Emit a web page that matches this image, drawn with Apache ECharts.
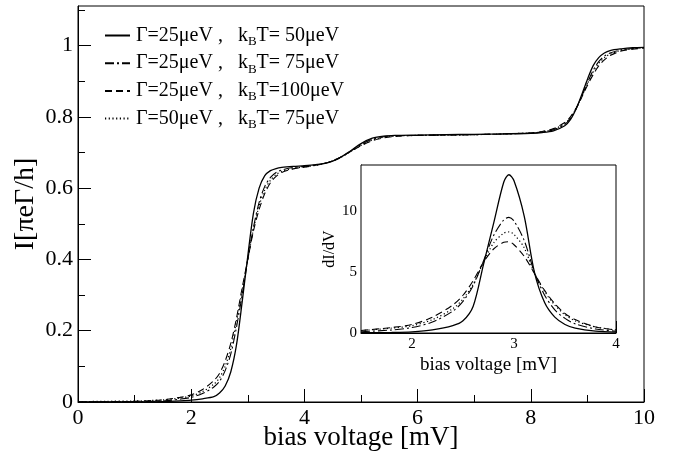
<!DOCTYPE html>
<html><head><meta charset="utf-8">
<script src="https://cdn.jsdelivr.net/npm/echarts@6/dist/echarts.min.js"></script>
<style>html,body{margin:0;padding:0;background:#fff}#c{width:679px;height:458px}</style>
</head><body><div id="c"></div>
<script>
// ---- main plot data ----
const vMain = [0,0.5,1,1.5,1.8,2.0,2.2,2.4,2.5,2.6,2.7,2.8,2.9,3.0,3.1,3.2,3.3,3.4,3.5,3.6,3.8,4.0,4.2,4.4,4.6,4.8,5.0,5.2,5.4,5.6,6.0,6.5,7.0,7.5,8.0,8.2,8.4,8.6,8.7,8.8,8.9,9.0,9.1,9.2,9.3,9.4,9.6,9.8,10];
const iSolid   = [0,0,0,0.001,0.003,0.005,0.009,0.015,0.025,0.045,0.085,0.16,0.28,0.41,0.53,0.60,0.635,0.649,0.655,0.658,0.661,0.663,0.666,0.671,0.683,0.703,0.725,0.740,0.746,0.748,0.749,0.750,0.751,0.752,0.754,0.756,0.761,0.775,0.792,0.822,0.862,0.905,0.943,0.966,0.979,0.986,0.991,0.994,0.995];
const iDashDot = [0,0,0.001,0.003,0.008,0.013,0.024,0.042,0.058,0.088,0.135,0.21,0.30,0.40,0.49,0.56,0.605,0.63,0.644,0.651,0.658,0.661,0.665,0.671,0.683,0.702,0.722,0.737,0.744,0.747,0.748,0.749,0.750,0.752,0.754,0.757,0.764,0.779,0.796,0.823,0.858,0.895,0.93,0.955,0.970,0.979,0.988,0.992,0.994];
const iDash    = [0,0.0005,0.002,0.006,0.013,0.02,0.035,0.06,0.08,0.115,0.165,0.235,0.32,0.40,0.48,0.54,0.585,0.615,0.633,0.644,0.654,0.659,0.664,0.671,0.684,0.701,0.719,0.733,0.741,0.745,0.748,0.749,0.750,0.752,0.755,0.759,0.767,0.784,0.80,0.824,0.855,0.888,0.918,0.943,0.960,0.972,0.985,0.990,0.993];
const iDot     = [0.001,0.002,0.003,0.006,0.011,0.017,0.029,0.05,0.068,0.10,0.15,0.225,0.31,0.40,0.485,0.55,0.595,0.622,0.638,0.647,0.655,0.66,0.664,0.671,0.683,0.701,0.72,0.735,0.743,0.746,0.748,0.749,0.750,0.752,0.755,0.758,0.765,0.781,0.798,0.823,0.857,0.892,0.925,0.95,0.966,0.976,0.987,0.991,0.994];

// ---- inset data ----
const vInset = [1.5,1.8,2.0,2.2,2.4,2.5,2.6,2.7,2.8,2.9,2.95,3.0,3.1,3.2,3.3,3.4,3.5,3.6,3.8,4.0];
const gSolid   = [0.02,0.05,0.1,0.25,0.6,1.0,2.2,5.6,9.0,12.4,13.0,12.5,9.6,5.0,2.5,1.3,0.7,0.4,0.15,0.07];
const gDashDot = [0.1,0.25,0.45,0.9,1.8,2.6,3.9,5.9,8.0,9.3,9.5,9.2,7.6,5.0,3.1,1.9,1.2,0.75,0.33,0.15];
const gDash    = [0.2,0.45,0.7,1.3,2.3,3.1,4.3,5.8,6.9,7.45,7.5,7.25,6.3,4.9,3.5,2.4,1.6,1.1,0.5,0.25];
const gDot     = [0.2,0.4,0.6,1.1,2.0,2.8,4.0,5.8,7.4,8.2,8.3,8.1,7.0,4.9,3.4,2.3,1.5,1.0,0.5,0.25];

// ---- ticks / labels ----
const mainYMajor = [0,0.2,0.4,0.6,0.8,1];
const mainYMinor = [0.1,0.3,0.5,0.7,0.9,1.1];
const insetXMajor = [2,3,4];
const insetXMinor = [2.5,3.5];
const insetYMajor = [0,5,10];
const insetYMinor = [2.5,7.5,12.5];
const names = ['s1','s2','s3','s4'];
const legendParts = [['Γ=25μeV ,   k','T= 50μeV'],['Γ=25μeV ,   k','T= 75μeV'],['Γ=25μeV ,   k','T=100μeV'],['Γ=50μeV ,   k','T= 75μeV']];

const FONT = 'Liberation Serif';
const pair = (xs, ys) => xs.map((x, i) => [x, ys[i]]);
const styles = [
  {type:'solid', width:1.3},
  {type:[9,3,2,3], width:1.1},
  {type:[7,4], width:1.1},
  {type:[1.2,2.5], width:1.2}
];
const mainData = [iSolid, iDashDot, iDash, iDot];
const insetData = [gSolid, gDashDot, gDash, gDot];

const series = [];
mainData.forEach((d, k) => series.push({
  name: names[k], type:'line', xAxisIndex:0, yAxisIndex:0, data: pair(vMain, d),
  smooth:0.3, symbol:'none', z: 10 - k,
  itemStyle:{color:'#000', opacity:0},
  lineStyle:{color:'#000', width:styles[k].width, type:styles[k].type}
}));
insetData.forEach((d, k) => series.push({
  name: 'in'+k, type:'line', xAxisIndex:1, yAxisIndex:2, data: pair(vInset, d),
  smooth:0.3, symbol:'none', z: 10 - k,
  itemStyle:{color:'#000', opacity:0},
  lineStyle:{color:'#000', width:styles[k].width, type:styles[k].type}
}));

const lblMain = {color:'#000', fontFamily:FONT, fontSize:22};
const lblInset = {color:'#000', fontFamily:FONT, fontSize:15};
const axLine = {show:true, lineStyle:{color:'#000', width:1}};

const option = {
  animation:false,
  backgroundColor:'#fff',
  grid:[
    {left:78, top:6, width:566, height:396, outerBoundsMode:'none', containLabel:false, show:true, borderColor:'#000', borderWidth:1, backgroundColor:'transparent'},
    {left:361, top:165, width:255, height:168, outerBoundsMode:'none', containLabel:false, show:true, borderColor:'#000', borderWidth:1, backgroundColor:'#fff', z:5}
  ],
  legend:{
    data: names, orient:'vertical', left:99, top:18, itemWidth:25, itemHeight:14, itemGap:2.7,
    itemStyle:{opacity:0},
    formatter: n => { const p = legendParts[names.indexOf(n)]; return '{a|'+p[0]+'}{b|B}{a|'+p[1]+'}'; },
    textStyle:{color:'#000', fontFamily:FONT, fontSize:20, padding:[0,0,0,1],
      rich:{a:{fontFamily:FONT, fontSize:20, color:'#000', lineHeight:22}, b:{fontFamily:FONT, fontSize:13, color:'#000', padding:[12,0,0,0], lineHeight:12}}}
  },
  xAxis:[
    {gridIndex:0, type:'value', min:0, max:10, interval:2,
     axisLine:axLine, splitLine:{show:false},
     axisTick:{inside:true, length:13, lineStyle:{color:'#000'}},
     minorTick:{show:true, splitNumber:2, length:7, lineStyle:{color:'#000'}},
     axisLabel:{...lblMain, margin:5},
     name:'bias voltage [mV]', nameLocation:'middle', nameGap:22, nameMoveOverlap:false,
     nameTextStyle:{color:'#000', fontFamily:FONT, fontSize:27}},
    {gridIndex:1, type:'value', min:1.5, max:4,
     axisLine:axLine, splitLine:{show:false},
     axisTick:{inside:true, length:12, customValues:insetXMajor, lineStyle:{color:'#000'}},
     axisLabel:{...lblInset, margin:4, customValues:insetXMajor},
     name:'bias voltage [mV]', nameLocation:'middle', nameGap:23,
     nameTextStyle:{color:'#000', fontFamily:FONT, fontSize:19}},
    {gridIndex:1, type:'value', min:1.5, max:4, position:'bottom',
     axisLine:{show:false}, splitLine:{show:false},
     axisTick:{inside:true, length:7, customValues:insetXMinor, lineStyle:{color:'#000'}},
     axisLabel:{show:false}}
  ],
  yAxis:[
    {gridIndex:0, type:'value', min:0, max:1.111, position:'left',
     axisLine:axLine, splitLine:{show:false},
     axisTick:{inside:true, length:13, customValues:mainYMajor, lineStyle:{color:'#000'}},
     axisLabel:{...lblMain, margin:5, customValues:mainYMajor},
     name:'I[πeΓ/h]', nameLocation:'middle', nameGap:38, nameMoveOverlap:false,
     nameTextStyle:{color:'#000', fontFamily:FONT, fontSize:28}},
    {gridIndex:0, type:'value', min:0, max:1.111, position:'left',
     axisLine:{show:false}, splitLine:{show:false},
     axisTick:{inside:true, length:7, customValues:mainYMinor, lineStyle:{color:'#000'}},
     axisLabel:{show:false}},
    {gridIndex:1, type:'value', min:0, max:13.8, position:'left',
     axisLine:axLine, splitLine:{show:false},
     axisTick:{inside:true, length:12, customValues:insetYMajor, lineStyle:{color:'#000'}},
     axisLabel:{...lblInset, margin:4, customValues:insetYMajor},
     name:'dI/dV', nameLocation:'middle', nameGap:20,
     nameTextStyle:{color:'#000', fontFamily:FONT, fontSize:16}},
    {gridIndex:1, type:'value', min:0, max:13.8, position:'left',
     axisLine:{show:false}, splitLine:{show:false},
     axisTick:{inside:true, length:7, customValues:insetYMinor, lineStyle:{color:'#000'}},
     axisLabel:{show:false}}
  ],
  series: series
};
const chart = echarts.init(document.getElementById('c'), null, {renderer:'canvas'});
chart.setOption(option);
</script></body></html>
